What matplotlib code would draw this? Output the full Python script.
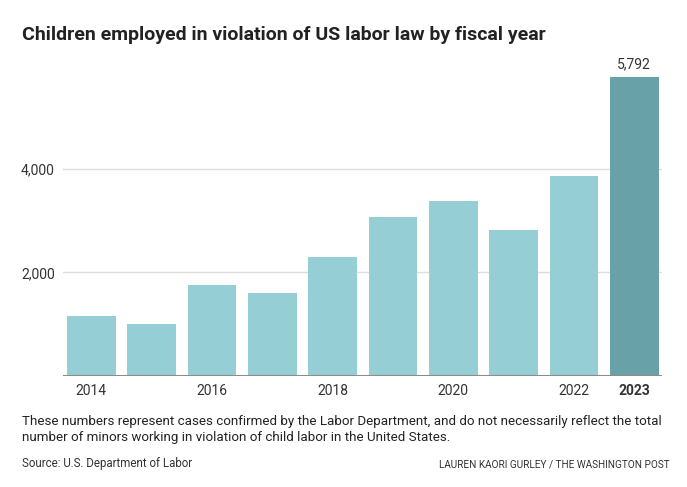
import matplotlib
matplotlib.use('Agg')
import matplotlib.pyplot as plt
import numpy as np

# Donnees
years = [2014, 2015, 2016, 2017, 2018, 2019, 2020, 2021, 2022, 2023]
children = [1157, 1002, 1758, 1603, 2300, 3076, 3386, 2824, 3870, 5792]
tick_years = [2014, 2016, 2018, 2020, 2022, 2023]
y_ticks = [2000, 4000]

LIGHT = '#96ced6'
DARK = '#69a1a9'
TEXT = '#333333'

plt.rcParams['font.family'] = ['Roboto', 'DejaVu Sans']

fig = plt.figure(figsize=(6.87, 4.87), dpi=100)
ax = fig.add_axes([0.0917, 0.2285, 0.872, 0.636])

x = np.arange(len(years))
colors = [LIGHT] * (len(years) - 1) + [DARK]
ax.bar(x, children, width=0.807, color=colors, zorder=2)

ax.set_xlim(-0.47, len(years) - 1 + 0.46)
ax.set_ylim(0, 6000)

# Grille horizontale
for v in y_ticks:
    ax.axhline(v, color='#dddddd', linewidth=1, zorder=1)
ax.axhline(0, color='#8c8c8c', linewidth=2.2, zorder=3)

ax.set_yticks(y_ticks)
ax.set_yticklabels([f"{v:,}" for v in y_ticks], fontsize=10, color=TEXT)
ax.tick_params(axis='y', length=0, pad=6)

ax.set_xticks([years.index(y) for y in tick_years])
ax.set_xticklabels([str(y) for y in tick_years], fontsize=10, color=TEXT)
ax.get_xticklabels()[-1].set_fontweight('bold')
ax.tick_params(axis='x', length=0, pad=6)

for s in ax.spines.values():
    s.set_visible(False)

# Etiquette de la derniere barre
ax.annotate(f"{children[-1]:,}", (x[-1], children[-1]), xytext=(0, 4),
            textcoords='offset points', ha='center', va='bottom', fontsize=10, color=TEXT)

fig.text(22 / 687, 1 - 35 / 487, "Children employed in violation of US labor law by fiscal year",
         fontsize=14, fontweight='bold', color='#222222', va='center', ha='left')

fig.text(22 / 687, 1 - 421 / 487,
         "These numbers represent cases confirmed by the Labor Department, and do not necessarily reflect the total",
         fontsize=9.6, color='#222222', va='center', ha='left')
fig.text(22 / 687, 1 - 438 / 487,
         "number of minors working in violation of child labor in the United States.",
         fontsize=9.6, color='#222222', va='center', ha='left')
fig.text(22 / 687, 1 - 464 / 487, "Source: U.S. Department of Labor",
         fontsize=8.3, color='#333333', va='center', ha='left')
fig.text(670 / 687, 1 - 464 / 487, "LAUREN KAORI GURLEY / THE WASHINGTON POST",
         fontsize=7.2, color='#333333', va='center', ha='right')

fig.savefig('out.png', dpi=100, facecolor='white')
